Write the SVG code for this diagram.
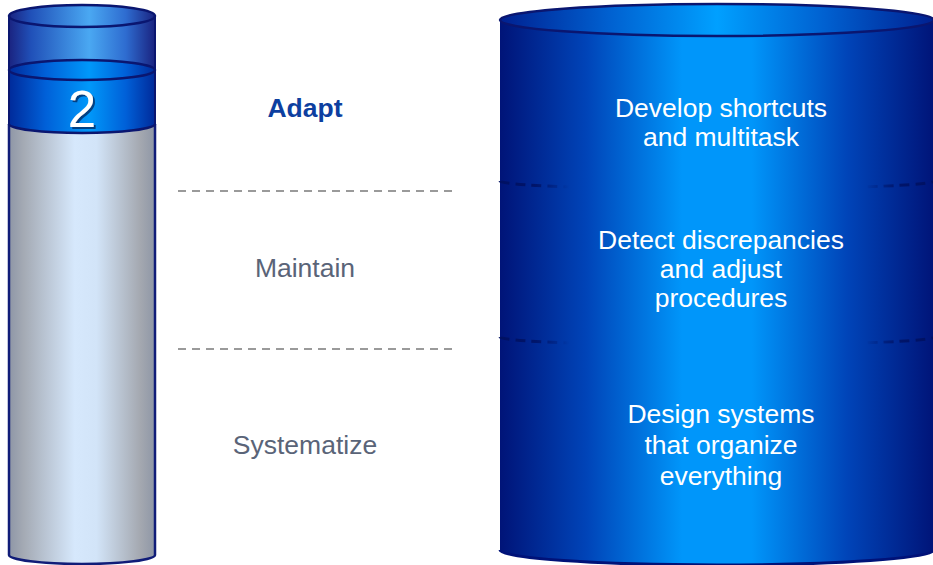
<svg xmlns="http://www.w3.org/2000/svg" width="933" height="565" viewBox="0 0 933 565">
<defs>
<linearGradient id="bigBody" x1="0" y1="0" x2="1" y2="0">
<stop offset="0" stop-color="#001478"/>
<stop offset="0.2" stop-color="#0044B8"/>
<stop offset="0.42" stop-color="#0096FA"/>
<stop offset="0.58" stop-color="#0096FA"/>
<stop offset="0.8" stop-color="#0044B8"/>
<stop offset="1" stop-color="#001478"/>
</linearGradient>
<linearGradient id="bigTop" x1="0" y1="0" x2="1" y2="0">
<stop offset="0" stop-color="#002090"/>
<stop offset="0.25" stop-color="#0060D0"/>
<stop offset="0.5" stop-color="#00A0FF"/>
<stop offset="0.75" stop-color="#0060D0"/>
<stop offset="1" stop-color="#002090"/>
</linearGradient>
<linearGradient id="sepStroke" x1="0" y1="0" x2="1" y2="0">
<stop offset="0" stop-color="#001060" stop-opacity="0.9"/>
<stop offset="0.08" stop-color="#001060" stop-opacity="0.8"/>
<stop offset="0.16" stop-color="#001060" stop-opacity="0"/>
<stop offset="0.84" stop-color="#001060" stop-opacity="0"/>
<stop offset="0.92" stop-color="#001060" stop-opacity="0.8"/>
<stop offset="1" stop-color="#001060" stop-opacity="0.9"/>
</linearGradient>
<linearGradient id="tube" x1="0" y1="0" x2="1" y2="0">
<stop offset="0" stop-color="#1A2380"/>
<stop offset="0.15" stop-color="#2050B8"/>
<stop offset="0.55" stop-color="#4AA8F2"/>
<stop offset="0.8" stop-color="#2E6CD0"/>
<stop offset="1" stop-color="#1A2380"/>
</linearGradient>
<linearGradient id="liquid" x1="0" y1="0" x2="1" y2="0">
<stop offset="0" stop-color="#002A9A"/>
<stop offset="0.25" stop-color="#0060D8"/>
<stop offset="0.55" stop-color="#0098FA"/>
<stop offset="0.8" stop-color="#0060D8"/>
<stop offset="1" stop-color="#002A9A"/>
</linearGradient>
<linearGradient id="gray" x1="0" y1="0" x2="1" y2="0">
<stop offset="0" stop-color="#8E96A6"/>
<stop offset="0.1" stop-color="#A4AAB4"/>
<stop offset="0.45" stop-color="#D6E8FC"/>
<stop offset="0.6" stop-color="#D2E4F8"/>
<stop offset="0.9" stop-color="#A4A8B0"/>
<stop offset="1" stop-color="#8E96A6"/>
</linearGradient>
<filter id="shadow" x="-20%" y="-20%" width="150%" height="150%">
<feDropShadow dx="2" dy="2" stdDeviation="0.6" flood-color="#003070" flood-opacity="0.85"/>
</filter>
</defs>
<style>
.lbl{font-family:"Liberation Sans",Arial,sans-serif;font-size:26.5px;text-anchor:middle;fill:#5A6478}
.wt{font-family:"Liberation Sans",Arial,sans-serif;font-size:26.5px;text-anchor:middle;fill:#FFFFFF}
.dash{stroke:#9A9A9A;stroke-width:2;stroke-dasharray:8,6;fill:none}
.edge{stroke:#0A1670;stroke-width:2;fill:none}
.sep{stroke:url(#sepStroke);stroke-width:3;stroke-dasharray:10,6;fill:none}
</style>

<g id="level-cylinder">
<path d="M9,124 L9,555 A73,9 0 0 0 155,555 L155,124 Z" fill="url(#gray)"/>
<path d="M9,124 L9,555 A73,9 0 0 0 155,555 L155,124" stroke="#101C78" stroke-width="2.5" fill="none"/>
<path d="M9,16 L9,70 A73,10 0 0 0 155,70 L155,16 Z" fill="url(#tube)"/>
<path d="M9,70 L9,124 A73,9 0 0 0 155,124 L155,70 Z" fill="url(#liquid)"/>
<path d="M9,124 A73,9 0 0 0 155,124" stroke="#0A1670" stroke-width="2.5" fill="none"/>
<ellipse cx="82" cy="70" rx="73" ry="10" fill="url(#liquid)" stroke="#0A1670" stroke-width="2.5"/>
<ellipse cx="82" cy="16" rx="73" ry="11" fill="url(#tube)" stroke="#0A1670" stroke-width="2.5"/>
<path d="M9,16 L9,124 M155,16 L155,124" class="edge"/>
<text x="82" y="127" font-family="Liberation Sans,Arial,sans-serif" font-size="51" text-anchor="middle" fill="#FFFFFF" filter="url(#shadow)">2</text>
</g>

<g id="connectors">
<line x1="178" y1="191" x2="452" y2="191" class="dash"/>
<line x1="178" y1="349" x2="452" y2="349" class="dash"/>
</g>

<g id="label-adapt">
<text x="305" y="117" class="lbl" style="font-weight:bold;fill:#0D3FA0">Adapt</text>
</g>
<g id="label-maintain">
<text x="305" y="277" class="lbl">Maintain</text>
</g>
<g id="label-systematize">
<text x="305" y="454" class="lbl">Systematize</text>
</g>

<g id="big-cylinder">
<path d="M500,20 L500,550 A217,15 0 0 0 934,550 L934,20 Z" fill="url(#bigBody)"/>
<path d="M500,550 A217,15 0 0 0 934,550" stroke="#001278" stroke-width="3" fill="none"/>
<ellipse cx="717" cy="20" rx="217" ry="16" fill="url(#bigTop)" stroke="#0A1670" stroke-width="2.5"/>
<path d="M500,181 A217,8 0 0 0 934,181" class="sep"/>
<path d="M500,337 A217,8 0 0 0 934,337" class="sep"/>
</g>

<g id="step-shortcuts">
<text class="wt" x="721" y="117">Develop shortcuts</text>
<text class="wt" x="721" y="146">and multitask</text>
</g>
<g id="step-discrepancies">
<text class="wt" x="721" y="249">Detect discrepancies</text>
<text class="wt" x="721" y="278">and adjust</text>
<text class="wt" x="721" y="307">procedures</text>
</g>
<g id="step-systems">
<text class="wt" x="721" y="423">Design systems</text>
<text class="wt" x="721" y="454">that organize</text>
<text class="wt" x="721" y="485">everything</text>
</g>
</svg>
